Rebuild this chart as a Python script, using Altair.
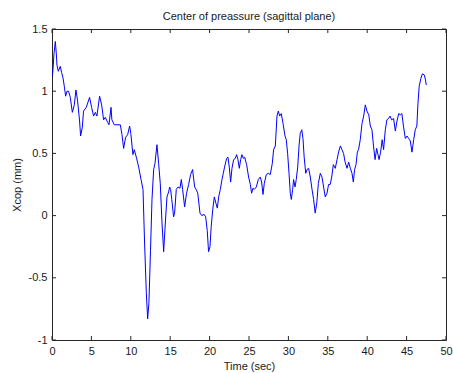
import altair as alt
import pandas as pd

# Time (sec)
time_s = [0.0, 0.1, 0.25, 0.42, 0.55, 0.63, 0.8, 1.05, 1.22, 1.39, 1.56, 1.73, 1.9, 2.1, 2.32, 2.58,
          2.83, 3.04, 3.25, 3.5, 3.63, 3.85, 4.0, 4.35, 4.77, 5.03, 5.28, 5.5, 5.7, 6.04, 6.3, 6.55,
          6.76, 7.06, 7.23, 7.49, 7.6, 7.9, 8.25, 8.67, 8.88, 9.09, 9.34, 9.6, 9.85, 10.0, 10.27,
          10.44, 10.7, 11.0, 11.3, 11.55, 11.75, 11.97, 12.14, 12.3, 12.5, 12.69, 12.9, 13.07,
          13.32, 13.53, 13.74, 13.96, 14.17, 14.38, 14.59, 14.8, 14.93, 15.05, 15.2, 15.43, 15.56,
          15.77, 15.99, 16.24, 16.41, 16.58, 16.83, 17.08, 17.34, 17.59, 17.84, 18.1, 18.3, 18.5,
          18.78, 19.0, 19.3, 19.5, 19.7, 19.87, 20.05, 20.2, 20.4, 20.6, 20.8, 20.98, 21.15, 21.36,
          21.57, 21.74, 21.9, 22.16, 22.33, 22.5, 22.67, 22.84, 23.05, 23.26, 23.43, 23.6, 23.77,
          23.94, 24.1, 24.28, 24.45, 24.7, 24.95, 25.17, 25.33, 25.5, 25.67, 25.93, 26.18, 26.43,
          26.6, 26.78, 26.94, 27.2, 27.45, 27.7, 27.96, 28.12, 28.34, 28.55, 28.72, 28.89, 29.1,
          29.32, 29.57, 29.73, 29.9, 30.08, 30.24, 30.37, 30.54, 30.66, 30.84, 31.0, 31.18, 31.35,
          31.5, 31.7, 31.85, 32.0, 32.2, 32.36, 32.57, 32.78, 33.0, 33.2, 33.4, 33.6, 33.8, 34.05,
          34.26, 34.47, 34.68, 34.9, 35.1, 35.3, 35.5, 35.7, 35.95, 36.17, 36.37, 36.6, 36.8, 37.0,
          37.2, 37.44, 37.65, 37.86, 38.07, 38.24, 38.4, 38.58, 38.75, 38.9, 39.12, 39.34, 39.55,
          39.76, 39.97, 40.2, 40.4, 40.6, 40.8, 41.0, 41.2, 41.37, 41.5, 41.7, 41.9, 42.08, 42.3,
          42.5, 42.7, 42.9, 43.1, 43.35, 43.57, 43.78, 44.0, 44.2, 44.4, 44.6, 44.84, 45.05, 45.26,
          45.47, 45.68, 45.9, 46.1, 46.3, 46.44, 46.6, 46.8, 47.0, 47.25, 47.4, 47.5]

# Xcop (mm)
xcop = [1.12, 1.15, 1.30, 1.40, 1.30, 1.21, 1.16, 1.20, 1.15, 1.11, 1.04, 0.96, 1.00, 1.00, 0.95, 0.83,
        0.89, 1.01, 0.92, 0.76, 0.64, 0.71, 0.84, 0.87, 0.95, 0.87, 0.80, 0.83, 0.80, 0.96, 0.89, 0.77,
        0.79, 0.75, 0.73, 0.87, 0.77, 0.73, 0.73, 0.73, 0.65, 0.54, 0.63, 0.65, 0.72, 0.66, 0.49,
        0.53, 0.47, 0.39, 0.29, 0.21, -0.22, -0.62, -0.83, -0.70, -0.28, 0.13, 0.37, 0.42,
        0.57, 0.42, 0.26, -0.06, -0.29, -0.06, 0.15, 0.19, 0.23, 0.21, 0.13, -0.01, 0.02,
        0.21, 0.23, 0.22, 0.29, 0.21, 0.07, 0.18, 0.25, 0.33, 0.37, 0.23, 0.21, 0.18,
        0.02, 0.0, 0.01, -0.01, -0.12, -0.29, -0.25, -0.09, 0.05, 0.15, 0.10, 0.06, 0.15, 0.21,
        0.29, 0.34, 0.39, 0.46, 0.47, 0.39, 0.27, 0.38, 0.45, 0.46, 0.49, 0.45, 0.38,
        0.45, 0.49, 0.46, 0.47, 0.41, 0.31, 0.25, 0.18, 0.22, 0.21, 0.23, 0.29, 0.31,
        0.27, 0.17, 0.26, 0.33, 0.34, 0.33, 0.42, 0.53, 0.56, 0.80, 0.84, 0.80, 0.82,
        0.74, 0.64, 0.61, 0.50, 0.34, 0.18, 0.13, 0.21, 0.29, 0.23, 0.29, 0.39, 0.56,
        0.66, 0.69, 0.62, 0.47, 0.34, 0.37, 0.38, 0.31, 0.21, 0.13, 0.02, 0.10, 0.26, 0.34,
        0.31, 0.23, 0.15, 0.18, 0.25, 0.25, 0.31, 0.41, 0.38, 0.45, 0.51, 0.56, 0.53, 0.50,
        0.43, 0.38, 0.43, 0.38, 0.34, 0.27, 0.37, 0.41, 0.51, 0.53, 0.61, 0.74, 0.80,
        0.89, 0.84, 0.81, 0.72, 0.69, 0.56, 0.45, 0.54, 0.49, 0.45, 0.51, 0.61, 0.53, 0.69,
        0.77, 0.78, 0.80, 0.77, 0.78, 0.68, 0.76, 0.82, 0.81, 0.82, 0.72, 0.62, 0.64, 0.62,
        0.60, 0.51, 0.61, 0.69, 0.72, 0.90, 1.04, 1.10, 1.14, 1.13, 1.09, 1.05]

x_ticks = [0, 5, 10, 15, 20, 25, 30, 35, 40, 45, 50]
y_ticks = [-1, -0.5, 0, 0.5, 1, 1.5]

W, H = 394, 311
FONT = "Liberation Sans"
TXT = "#1a1a1a"
FRAME = "#262626"

df = pd.DataFrame({"t": time_s, "x": xcop})
dfx = pd.DataFrame({"t": x_ticks})
dfy = pd.DataFrame({"x": y_ticks})

xscale = alt.Scale(domain=[0, 50], nice=False, zero=False)
yscale = alt.Scale(domain=[-1, 1.5], nice=False, zero=False)

x_axis = alt.Axis(values=x_ticks, domain=False, ticks=False, grid=False,
                  labelPadding=5, titlePadding=4, labelFlush=False,
                  labelExpr="'' + datum.value")
y_axis = alt.Axis(values=y_ticks, domain=False, ticks=False, grid=False,
                  labelPadding=5, titlePadding=6, labelFlush=False,
                  labelExpr="'' + datum.value")

X = alt.X("t:Q", scale=xscale, title="Time (sec)", axis=x_axis)
Y = alt.Y("x:Q", scale=yscale, title="Xcop (mm)", axis=y_axis)

line = alt.Chart(df).mark_line(color="#0000ff", strokeWidth=1, clip=True).encode(x=X, y=Y)

tick_len = 4
xt_bottom = alt.Chart(dfx).mark_rule(color=FRAME, strokeWidth=1).encode(
    x=X, y=alt.value(H), y2=alt.value(H - tick_len))
xt_top = alt.Chart(dfx).mark_rule(color=FRAME, strokeWidth=1).encode(
    x=X, y=alt.value(0), y2=alt.value(tick_len))
yt_left = alt.Chart(dfy).mark_rule(color=FRAME, strokeWidth=1).encode(
    y=Y, x=alt.value(0), x2=alt.value(tick_len))
yt_right = alt.Chart(dfy).mark_rule(color=FRAME, strokeWidth=1).encode(
    y=Y, x=alt.value(W), x2=alt.value(W - tick_len))

chart = alt.layer(line, xt_bottom, xt_top, yt_left, yt_right).properties(
    width=W, height=H,
    title=alt.TitleParams("Center of preassure (sagittal plane)", fontSize=11,
                          fontWeight="normal", font=FONT, color=TXT, offset=1),
    autosize=alt.AutoSizeParams(type="none"),
    padding={"left": 52, "top": 29, "right": 7, "bottom": 33},
).configure_view(
    stroke=FRAME, strokeWidth=1
).configure_axis(
    labelFont=FONT, titleFont=FONT, labelFontSize=11, titleFontSize=11,
    labelColor=TXT, titleColor=TXT, titleFontWeight="normal"
)

chart.save("out.html", embed_options={"renderer": "svg", "actions": False})
